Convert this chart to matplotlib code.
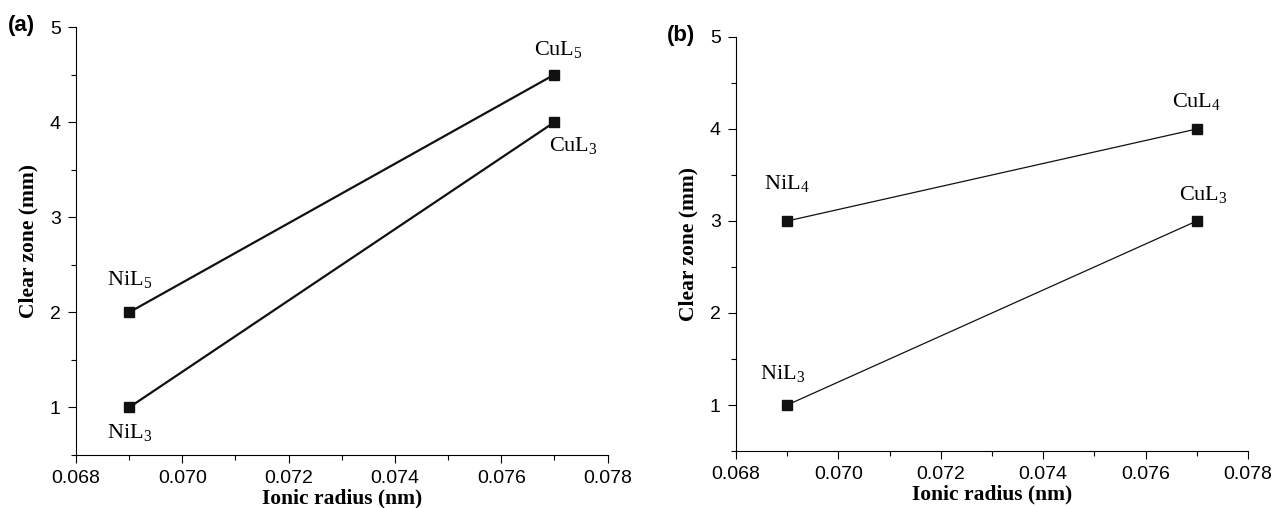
import matplotlib.pyplot as plt
from matplotlib.ticker import MultipleLocator

plt.rcParams['mathtext.fontset'] = 'custom'
plt.rcParams['mathtext.rm'] = 'Liberation Serif'
plt.rcParams['mathtext.it'] = 'Liberation Serif:italic'

radius = [0.069, 0.077]

# panel (a)
a_upper = [2, 4.5]
a_lower = [1, 4]
a_upper_labels = ['NiL$_5$', 'CuL$_5$']
a_lower_labels = ['NiL$_3$', 'CuL$_3$']

# panel (b)
b_upper = [3, 4]
b_lower = [1, 3]
b_upper_labels = ['NiL$_4$', 'CuL$_4$']
b_lower_labels = ['NiL$_3$', 'CuL$_3$']

xticks = [0.068, 0.070, 0.072, 0.074, 0.076, 0.078]

fig = plt.figure(figsize=(12.72, 5.08), dpi=100)
ax1 = fig.add_axes([0.0597, 0.1043, 0.418, 0.8425])
ax2 = fig.add_axes([0.5786, 0.1122, 0.4025, 0.815])

label_font = dict(family='Liberation Serif', fontweight='bold', fontsize=15.5)
ann_font = dict(family='Liberation Serif', fontsize=16, ha='center', va='center')


def style(ax):
    ax.set_xlim(0.068, 0.078)
    ax.set_ylim(0.5, 5)
    ax.set_xticks(xticks)
    ax.set_xticklabels(['%.3f' % t for t in xticks])
    ax.set_yticks([1, 2, 3, 4, 5])
    ax.xaxis.set_minor_locator(MultipleLocator(0.001))
    ax.yaxis.set_minor_locator(MultipleLocator(0.5))
    ax.spines['top'].set_visible(False)
    ax.spines['right'].set_visible(False)
    ax.tick_params(which='major', direction='out', length=6, width=0.8,
                   labelsize=14, pad=5)
    ax.tick_params(which='minor', direction='out', length=3.5, width=0.8)
    for lab in ax.get_xticklabels() + ax.get_yticklabels():
        lab.set_family('Liberation Sans')
    ax.set_xlabel('Ionic radius (nm)', labelpad=1, **label_font)
    ax.set_ylabel('Clear zone (mm)', labelpad=8, **label_font)


# (a)
ax1.plot(radius, a_upper, color='#111111', lw=1.6, marker='s', ms=7.5)
ax1.plot(radius, a_lower, color='#111111', lw=1.6, marker='s', ms=7.5)
style(ax1)
ax1.annotate(a_upper_labels[0], (radius[0], a_upper[0]), xytext=(0, 24),
             textcoords='offset points', **ann_font)
ax1.annotate(a_upper_labels[1], (radius[1], a_upper[1]), xytext=(3, 18),
             textcoords='offset points', **ann_font)
ax1.annotate(a_lower_labels[0], (radius[0], a_lower[0]), xytext=(0, -18),
             textcoords='offset points', **ann_font)
ax1.annotate(a_lower_labels[1], (radius[1], a_lower[1]), xytext=(14, -17),
             textcoords='offset points', **ann_font)
fig.text(0.006, 0.95, '(a)', family='Liberation Sans', fontweight='bold',
         fontsize=16, va='center')

# (b)
ax2.plot(radius, b_upper, color='#111111', lw=0.9, marker='s', ms=7.5)
ax2.plot(radius, b_lower, color='#111111', lw=0.9, marker='s', ms=7.5)
style(ax2)
ax2.annotate(b_upper_labels[0], (radius[0], b_upper[0]), xytext=(0, 27),
             textcoords='offset points', **ann_font)
ax2.annotate(b_upper_labels[1], (radius[1], b_upper[1]), xytext=(0, 20),
             textcoords='offset points', **ann_font)
ax2.annotate(b_lower_labels[0], (radius[0], b_lower[0]), xytext=(-3, 23),
             textcoords='offset points', **ann_font)
ax2.annotate(b_lower_labels[1], (radius[1], b_lower[1]), xytext=(5, 19),
             textcoords='offset points', **ann_font)
fig.text(0.524, 0.93, '(b)', family='Liberation Sans', fontweight='bold',
         fontsize=16, va='center')

plt.savefig('out.png', dpi=100)
